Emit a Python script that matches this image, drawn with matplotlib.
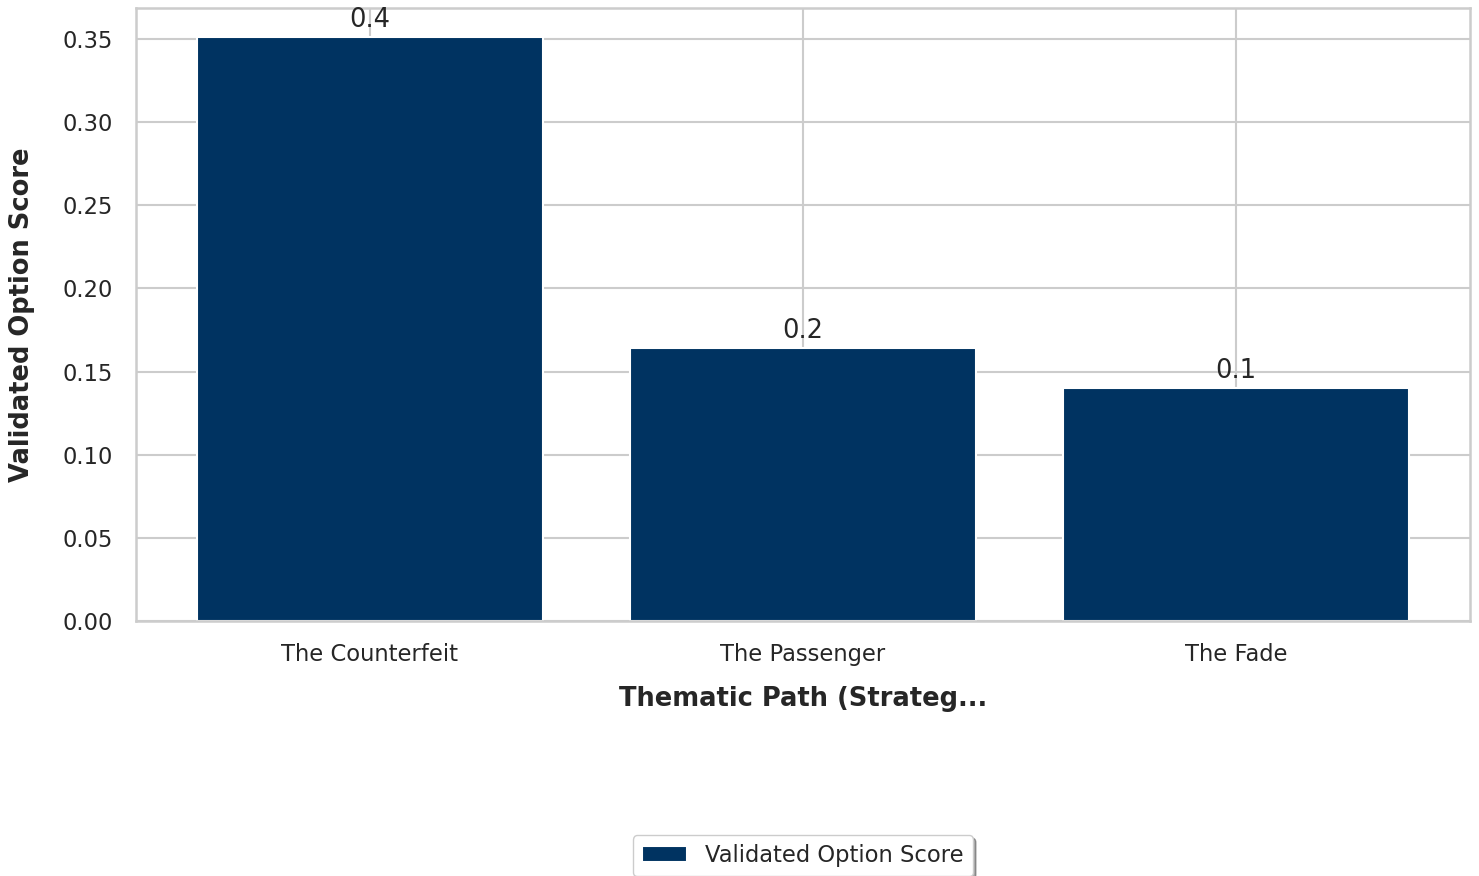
import matplotlib
matplotlib.use('Agg')
import matplotlib.pyplot as plt
import seaborn as sns

# 数据
categories = ["The Counterfeit", "The Passenger", "The Fade"]
scores = [0.351, 0.164, 0.14]
series_name = "Validated Option Score"

sns.set_theme(style="whitegrid")
plt.rcParams['font.family'] = ['DejaVu Sans']

fig = plt.figure(figsize=(14.79, 8.76), dpi=100)
ax = fig.add_axes([136 / 1479, 1 - 621 / 876, 1334 / 1479, 613 / 876])

bars = ax.bar(categories, scores, width=0.8, color="#003361",
              edgecolor="white", linewidth=1.5, label=series_name)
ax.bar_label(bars, fmt="%.1f", padding=3, fontsize=18.5, color="#262626")

ax.set_xlabel("Thematic Path (Strateg...", fontsize=18.5, fontweight='bold',
              labelpad=14, color="#262626")
ax.set_ylabel("Validated Option Score", fontsize=18.5, fontweight='bold',
              labelpad=20, color="#262626")
ax.tick_params(axis='both', labelsize=16.3, colors="#262626")
ax.tick_params(axis='x', pad=10)
ax.tick_params(axis='y', pad=10.5)

for s in ax.spines.values():
    s.set_color("#cccccc")
    s.set_linewidth(1.8)
ax.grid(True, color="#cccccc", linewidth=1.5)

ax.legend(loc='center', bbox_to_anchor=(0.5, -0.383), fontsize=16.3,
          frameon=True, shadow=True, fancybox=True)

plt.savefig("out.png", dpi=100, facecolor='white')
plt.close()
